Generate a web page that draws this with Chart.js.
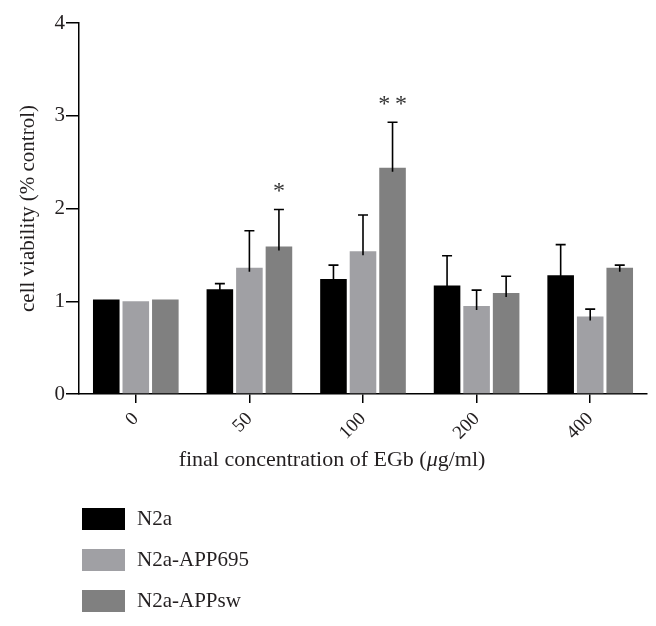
<!DOCTYPE html>
<html lang="en">
<head>
<meta charset="UTF-8" />
<title>Cell viability vs EGb concentration</title>
<script src="https://cdn.jsdelivr.net/npm/chart.js"></script>
<style>
  body { margin: 0; background: #fff; }
  #wrap { width: 656px; height: 626px; position: relative; }
</style>
</head>
<body>
<div id="wrap"><canvas id="barChart"></canvas></div>

<script>
  // categories (final concentration, ug/ml)
  const doses = ['0', '50', '100', '200', '400'];
  const seriesNames = ['N2a', 'N2a-APP695', 'N2a-APPsw'];
  const seriesColors = ['#000000', '#a0a0a4', '#808080'];

  // mean cell viability
  const n2a    = [1.02, 1.13, 1.24, 1.17, 1.28];
  const app695 = [1.00, 1.36, 1.54, 0.95, 0.835];
  const appsw  = [1.02, 1.59, 2.44, 1.09, 1.36];

  // upper error (SD)
  const errN2a    = [0, 0.06, 0.15, 0.32, 0.33];
  const errApp695 = [0, 0.40, 0.39, 0.17, 0.08];
  const errAppsw  = [0, 0.40, 0.49, 0.18, 0.03];

  // significance marks above N2a-APPsw bars
  const sigAppsw = ['', '*', '**', '', ''];

  const yTicks = [0, 1, 2, 3, 4];

  const serif = '"Liberation Serif", "Times New Roman", serif';
  const textColor = '#231f20';

  const allValues = [n2a, app695, appsw];
  const allErrors = [errN2a, errApp695, errAppsw];
  const allSig = [null, null, sigAppsw];

  const decor = {
    id: 'decor',
    afterDatasetsDraw(chart) {
      const ctx = chart.ctx;
      const y = chart.scales.y;
      chart.data.datasets.forEach((ds, di) => {
        const meta = chart.getDatasetMeta(di);
        meta.data.forEach((bar, i) => {
          const err = ds.errors[i];
          let top = bar.y;
          if (err > 0) {
            const ey = y.getPixelForValue(ds.data[i] + err);
            ctx.save();
            ctx.strokeStyle = '#000';
            ctx.lineWidth = 1.6;
            ctx.beginPath();
            ctx.moveTo(bar.x, bar.y + 4);
            ctx.lineTo(bar.x, ey);
            ctx.moveTo(bar.x - 5, ey);
            ctx.lineTo(bar.x + 5, ey);
            ctx.stroke();
            ctx.restore();
            top = ey;
          }
          if (ds.sig && ds.sig[i]) {
            ctx.save();
            ctx.fillStyle = '#333';
            ctx.font = '24px ' + serif;
            ctx.textAlign = 'center';
            ctx.textBaseline = 'middle';
            ctx.fillText(ds.sig[i].split('').join('\u2009'), bar.x, top - 18);
            ctx.restore();
          }
        });
      });
    },
    afterDraw(chart) {
      const ctx = chart.ctx;
      ctx.save();
      // x axis title with italic mu
      const parts = [['final concentration of EGb (', 'normal'], ['\u03bc', 'italic'], ['g/ml)', 'normal']];
      let total = 0;
      parts.forEach(p => { ctx.font = p[1] + ' 22px ' + serif; total += ctx.measureText(p[0]).width; });
      let x = 332 - total / 2;
      ctx.fillStyle = textColor;
      ctx.textBaseline = 'middle';
      parts.forEach(p => {
        ctx.font = p[1] + ' 22px ' + serif;
        ctx.fillText(p[0], x, 460);
        x += ctx.measureText(p[0]).width;
      });
      // legend, one item per row
      chart.data.datasets.forEach((ds, i) => {
        const top = 508 + i * 41;
        ctx.fillStyle = ds.backgroundColor;
        ctx.fillRect(82, top, 43, 22);
        ctx.fillStyle = textColor;
        ctx.font = '21px ' + serif;
        ctx.textAlign = 'left';
        ctx.fillText(ds.label, 137, top + 11);
      });
      ctx.restore();
    }
  };

  new Chart(document.getElementById('barChart'), {
    type: 'bar',
    data: {
      labels: doses,
      datasets: seriesNames.map((name, i) => ({
        label: name,
        data: allValues[i],
        errors: allErrors[i],
        sig: allSig[i],
        backgroundColor: seriesColors[i],
        borderWidth: 0,
        categoryPercentage: 0.78,
        barPercentage: 0.9
      }))
    },
    options: {
      responsive: true,
      maintainAspectRatio: false,
      animation: false,
      layout: { padding: { left: 16, right: 9, top: 23, bottom: 172 } },
      plugins: { legend: { display: false }, tooltip: { enabled: false } },
      scales: {
        x: {
          afterFit(scale) { scale.height = 60; },
          grid: { display: true, drawOnChartArea: false, offset: false, tickLength: 9, color: '#000', lineWidth: 1.5 },
          border: { display: true, color: '#000', width: 1.5 },
          ticks: { color: textColor, font: { family: serif, size: 19 }, minRotation: 45, maxRotation: 45, padding: 5 }
        },
        y: {
          min: 0,
          max: 4,
          afterFit(scale) { scale.width = 63; },
          afterBuildTicks(scale) { scale.ticks = yTicks.map(v => ({ value: v })); },
          grid: { drawOnChartArea: false, tickLength: 13, color: '#000', lineWidth: 1.5 },
          border: { display: true, color: '#000', width: 1.5 },
          ticks: { color: textColor, font: { family: serif, size: 21 }, padding: 1 },
          title: { display: true, text: 'cell viability (% control)', color: textColor, font: { family: serif, size: 21 }, padding: 0 }
        }
      }
    },
    plugins: [decor]
  });
</script>
</body>
</html>
